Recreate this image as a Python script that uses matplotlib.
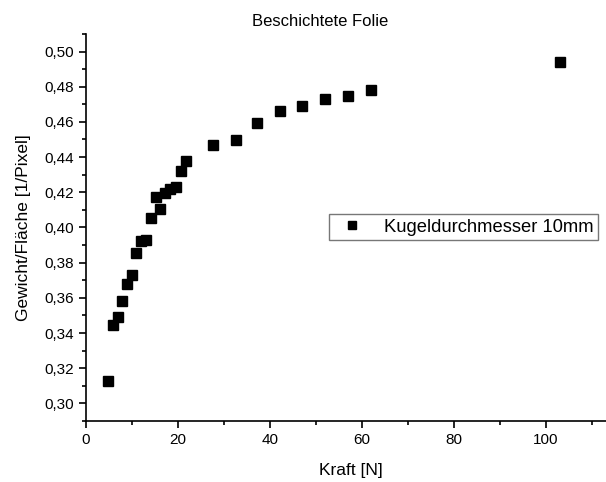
import matplotlib.pyplot as plt
from matplotlib.ticker import MultipleLocator, FuncFormatter

plt.rcParams['font.family'] = ['Liberation Sans', 'DejaVu Sans']

# Messwerte
kraft = [4.8, 5.8, 6.9, 7.9, 8.9, 9.9, 10.9, 12.0, 13.1, 14.1, 15.2, 16.1, 17.2,
         18.3, 19.5, 20.7, 21.8, 27.5, 32.7, 37.2, 42.1, 47.0, 52.0, 57.0, 62.0, 103.1]
gewicht = [0.3129, 0.3444, 0.3491, 0.3584, 0.3680, 0.3731, 0.3854, 0.3922, 0.3931,
           0.4056, 0.4173, 0.4103, 0.4194, 0.4220, 0.4231, 0.4320, 0.4377, 0.4466,
           0.4497, 0.4594, 0.4664, 0.4692, 0.4730, 0.4749, 0.4783, 0.4938]
serie = 'Kugeldurchmesser 10mm'

fig = plt.figure(figsize=(6.06, 4.82), dpi=100)
ax = fig.add_axes([0.1419, 0.1266, 0.873, 0.803])

ax.plot(kraft, gewicht, 's', color='black', markersize=6.5, label=serie)

ax.set_xlim(0, 115)
ax.set_ylim(0.29, 0.51)
ax.spines['top'].set_visible(False)
ax.spines['right'].set_visible(False)
ax.spines['left'].set_linewidth(1.2)
ax.spines['bottom'].set_linewidth(1.2)

ax.xaxis.set_major_locator(MultipleLocator(20))
ax.xaxis.set_minor_locator(MultipleLocator(10))
ax.yaxis.set_major_locator(MultipleLocator(0.02))
ax.yaxis.set_minor_locator(MultipleLocator(0.01))
ax.yaxis.set_major_formatter(FuncFormatter(lambda v, p: f'{v:.2f}'.replace('.', ',')))
ax.tick_params(which='major', direction='out', length=5, width=1.2, labelsize=11)
ax.tick_params(which='minor', direction='out', length=3, width=1.2)

ax.set_xlabel('Kraft [N]', fontsize=12.5, labelpad=12)
ax.set_ylabel('Gewicht/Fläche [1/Pixel]', fontsize=12.5, labelpad=10)
fig.text(0.528, 0.955, 'Beschichtete Folie', ha='center', va='center', fontsize=12)

leg = ax.legend(loc='upper left', bbox_to_anchor=(329 / 606, (482 - 214) / 482),
                bbox_transform=fig.transFigure, fontsize=13.2, frameon=True,
                fancybox=False, borderpad=0.25, handletextpad=0.75, borderaxespad=0,
                markerscale=0.85)
leg.get_frame().set_edgecolor('#555555')
leg.get_frame().set_linewidth(1.0)

fig.savefig('out.png', dpi=100)
